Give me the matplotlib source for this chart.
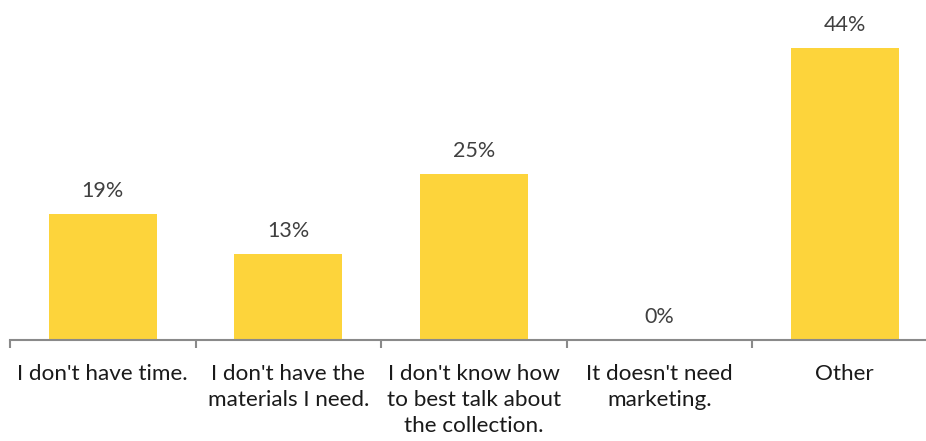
import matplotlib
matplotlib.use("Agg")
import matplotlib.pyplot as plt
from matplotlib.ticker import FixedLocator

categories = [
    "I don't have time.",
    "I don't have the\nmaterials I need.",
    "I don't know how\nto best talk about\nthe collection.",
    "It doesn't need\nmarketing.",
    "Other",
]
values = [19, 13, 25, 0, 44]
value_labels = ["19%", "13%", "25%", "0%", "44%"]

W, H = 926, 441
fig = plt.figure(figsize=(W / 100, H / 100), dpi=100)

# axes spans 10..937 px horizontally (right edge runs past the canvas), baseline at y=340
left_px, right_px, base_px = 10, 937.5, 340
ax = fig.add_axes([left_px / W, 1 - base_px / H, (right_px - left_px) / W, base_px / H])

x = list(range(len(categories)))
ax.bar(x, values, width=0.58, color="#FDD43B", zorder=2)
ax.set_xlim(-0.5, len(categories) - 0.5)
ax.set_ylim(0, base_px / 6.636)

for xi, v, lab in zip(x, values, value_labels):
    ax.annotate(lab, (xi, v), xytext=(0, 16.5), textcoords="offset points",
                ha="center", va="center", fontsize=15.5, color="#404040",
                family="Lato")

for s in ["top", "right", "left"]:
    ax.spines[s].set_visible(False)
ax.spines["bottom"].set_color("#8a8a8a")
ax.spines["bottom"].set_linewidth(1.5)
ax.set_yticks([])

ax.xaxis.set_major_locator(FixedLocator([i - 0.5 for i in range(len(categories) + 1)]))
ax.xaxis.set_major_formatter(plt.NullFormatter())
ax.tick_params(axis="x", which="major", length=6, width=1.5, color="#8a8a8a", direction="out")
ax.xaxis.set_minor_locator(FixedLocator(x))
ax.set_xticklabels(categories, minor=True)
ax.tick_params(axis="x", which="minor", length=0, pad=17, labelsize=16.2,
               labelcolor="#1a1a1a")
for t in ax.get_xticklabels(minor=True):
    t.set_family("Lato")
    t.set_linespacing(1.4)
    t.set_verticalalignment("top")

fig.savefig("out.png", dpi=100)
